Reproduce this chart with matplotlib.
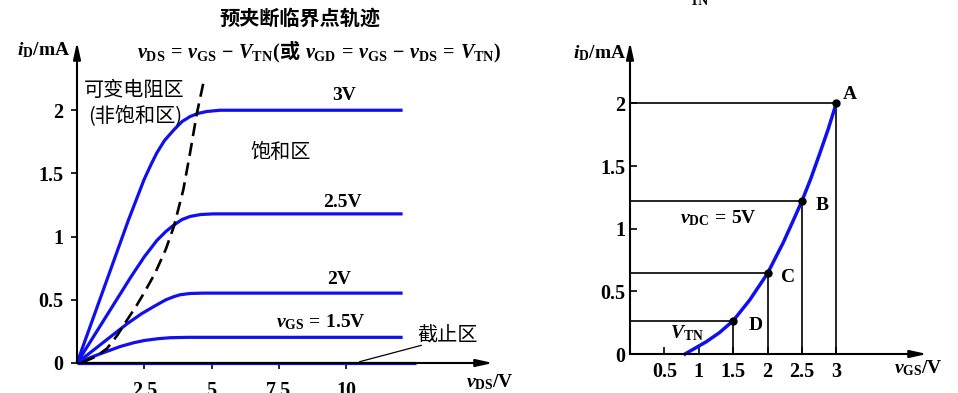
import matplotlib
matplotlib.use("Agg")
import matplotlib.pyplot as plt
from matplotlib.offsetbox import TextArea, HPacker, AnnotationBbox

plt.rcParams['font.family'] = ['Liberation Serif', 'Noto Sans CJK SC']
plt.rcParams['font.weight'] = 'bold'
plt.rcParams['mathtext.fontset'] = 'custom'
plt.rcParams['mathtext.rm'] = 'Liberation Serif:bold'
plt.rcParams['mathtext.it'] = 'Liberation Serif:italic:bold'
plt.rcParams['mathtext.bf'] = 'Liberation Serif:bold'

# ---- output characteristics (left) ----
vds_3v = [0, 1.91, 2.49, 2.75, 2.96, 3.25, 3.58, 3.9, 4.20, 4.5, 4.82, 5.32, 12.1]
id_3v = [0, 1.13, 1.45, 1.57, 1.66, 1.76, 1.84, 1.91, 1.95, 1.975, 1.99, 2.0, 2.0]
vds_25v = [0, 2.0, 2.5, 2.97, 3.3, 3.59, 3.9, 4.21, 4.6, 5.08, 12.1]
id_25v = [0, 0.68, 0.84, 0.97, 1.04, 1.09, 1.135, 1.16, 1.175, 1.18, 1.18]
vds_2v = [0, 1.86, 2.4, 2.84, 3.3, 3.6, 3.83, 4.2, 4.7, 12.1]
id_2v = [0, 0.31, 0.39, 0.445, 0.50, 0.525, 0.54, 0.55, 0.553, 0.553]
vds_15v = [0, 0.74, 1.6, 2.1, 2.5, 3.0, 3.46, 4.1, 12.1]
id_15v = [0, 0.063, 0.13, 0.16, 0.178, 0.192, 0.2, 0.203, 0.203]
vds_cut = [0, 12.6]
id_cut = [0, 0]
# pinch-off locus (dashed)
vds_po = [0.2, 0.7, 1.12, 1.5, 1.86, 2.2, 2.48, 2.9, 3.3, 3.6, 3.95, 4.2, 4.45, 4.74]
id_po = [0.005, 0.05, 0.116, 0.22, 0.34, 0.45, 0.55, 0.71, 0.9, 1.08, 1.37, 1.66, 1.97, 2.26]
xticks_l = [2.5, 5, 7.5, 10]
yticks = [0, 0.5, 1, 1.5, 2]

# ---- transfer characteristic (right) ----
vgs_tr = [0.80, 1.11, 1.3, 1.50, 1.74, 2.0, 2.23, 2.37, 2.5, 2.63, 2.76, 2.88, 3.0]
id_tr = [0.0, 0.098, 0.17, 0.265, 0.43, 0.643, 0.89, 1.06, 1.22, 1.40, 1.60, 1.79, 2.0]
pt_vgs = [3.0, 2.5, 2.0, 1.5]
pt_id = [2.0, 1.22, 0.643, 0.265]
pt_names = ['A', 'B', 'C', 'D']
xticks_r = [0.5, 1, 1.5, 2, 2.5, 3]

W, H = 958, 393
BLUE = '#1010ee'
fig = plt.figure(figsize=(W / 100, H / 100), dpi=100)


def add_ax(l, r, b, t):
    return fig.add_axes([l / W, 1 - b / H, (r - l) / W, (b - t) / H])


def txt(x, y, s, **kw):
    kw.setdefault('fontsize', 14)
    return fig.text(x / W, 1 - y / H, s, **kw)


def arrows(ax):
    ap = dict(arrowstyle='-|>,head_length=1.0,head_width=0.22', lw=1.5,
              color='k', shrinkA=0, shrinkB=0)
    ax.annotate('', xy=(1, 0), xytext=(0, 0), xycoords='axes fraction', arrowprops=ap)
    ax.annotate('', xy=(0, 1), xytext=(0, 0), xycoords='axes fraction', arrowprops=ap)
    for s in ax.spines.values():
        s.set_visible(False)


# left panel
ax1 = add_ax(77, 493, 363, 42)
ax1.set_xlim(0, 15.46)
ax1.set_ylim(0, 2.54)
arrows(ax1)
for xs, ys in [(vds_3v, id_3v), (vds_25v, id_25v), (vds_2v, id_2v),
               (vds_15v, id_15v), (vds_cut, id_cut)]:
    ax1.plot(xs, ys, color=BLUE, lw=2.3, clip_on=False,
             solid_capstyle='butt', solid_joinstyle='round')
ax1.plot(vds_po, id_po, color='k', lw=1.9, ls=(0, (5, 2.6)), clip_on=False)
ax1.set_xticks(xticks_l)
ax1.set_xticklabels(['2.5', '5', '7.5', '10'])
ax1.set_yticks(yticks)
ax1.set_yticklabels(['0', '0.5', '1', '1.5', '2'])
ax1.tick_params(axis='x', direction='out', length=4.3, width=1.2, pad=8.5, labelsize=14.5)
ax1.tick_params(axis='y', direction='out', length=4.3, width=1.2, pad=5.5, labelsize=14.5)
ax1.annotate('', xy=(10.5, 0.01), xytext=(12.8, 0.14),
             arrowprops=dict(arrowstyle='-', lw=0.9, color='k', shrinkA=0, shrinkB=0))

# right panel
ax2 = add_ax(630, 927, 354, 42)
ax2.set_xlim(0, 4.32)
ax2.set_ylim(0, 2.49)
arrows(ax2)
for v, i in zip(pt_vgs, pt_id):
    ax2.plot([0, v], [i, i], color='k', lw=1.2)
    ax2.plot([v, v], [0, i], color='k', lw=1.2)
ax2.plot(vgs_tr, id_tr, color=BLUE, lw=2.5, clip_on=False, solid_joinstyle='round')
ax2.plot(pt_vgs, pt_id, 'o', color='k', ms=5, clip_on=False)
offs = [(7, 9), (14, -4), (14, -4), (16, -5)]
for v, i, n, o in zip(pt_vgs, pt_id, pt_names, offs):
    ax2.annotate(n, (v, i), xytext=o, textcoords='offset pixels',
                 fontsize=14, ha='left', va='center')
ax2.set_xticks(xticks_r)
ax2.set_xticklabels(['0.5', '1', '1.5', '2', '2.5', '3'])
ax2.set_yticks(yticks)
ax2.set_yticklabels(['0', '0.5', '1', '1.5', '2'])
ax2.tick_params(axis='x', direction='in', length=5, width=1.2, pad=5.5, labelsize=14.5)
ax2.tick_params(axis='y', direction='in', length=5, width=1.2, pad=3.5, labelsize=14.5)

# texts
txt(300, 18, '预夹断临界点轨迹', ha='center', va='center',
    family=['Noto Sans CJK SC'], weight='bold', fontsize=14.5)

eq = r'\,=\,'
mi = r'\,-\,'
p1 = TextArea(r'$v_{\rm DS}' + eq + r'v_{\rm GS}' + mi + r'V_{\rm TN}$(',
              textprops=dict(fontsize=14.5))
p2 = TextArea('或', textprops=dict(fontsize=14.5, family=['Noto Sans CJK SC'], weight='bold'))
p3 = TextArea(r' $v_{\rm GD}' + eq + r'v_{\rm GS}' + mi + r'v_{\rm DS}' + eq + r'V_{\rm TN}$)',
              textprops=dict(fontsize=14.5))
box = HPacker(children=[p1, p2, p3], align='baseline', pad=0, sep=0)
fig.add_artist(AnnotationBbox(box, (137, H - 53), xycoords='figure pixels',
                              box_alignment=(0, 0.5), frameon=False))

cjk = dict(family=['Noto Sans CJK SC'], weight='normal', fontsize=14.5)
txt(134, 90, '可变电阻区', ha='center', va='center', **cjk)
txt(135, 117, '(非饱和区)', ha='center', va='center', **cjk)
txt(281, 152, '饱和区', ha='center', va='center', **cjk)
txt(417, 336, '截止区', ha='left', va='center', **cjk)
txt(344, 95, '3V', ha='center', va='center')
txt(342, 202, '2.5V', ha='center', va='center')
txt(339, 280, '2V', ha='center', va='center')
txt(321, 322, r'$v_{\rm GS}' + eq + r'$1.5V', ha='center', va='center')
txt(17, 50, r'$i_{\rm D}$/mA', ha='left', va='center')
txt(466, 382, r'$v_{\rm DS}$/V', ha='left', va='center')

txt(573, 53, r'$i_{\rm D}$/mA', ha='left', va='center')
txt(894, 368, r'$v_{\rm GS}$/V', ha='left', va='center')
txt(680, 218, r'$v_{\rm DC}' + eq + r'$5V', ha='left', va='center')
txt(670, 333, r'$V_{\rm TN}$', ha='left', va='center')
txt(699, 5, 'TN', ha='center', va='baseline', fontsize=10)

fig.savefig('out.png', dpi=100)
